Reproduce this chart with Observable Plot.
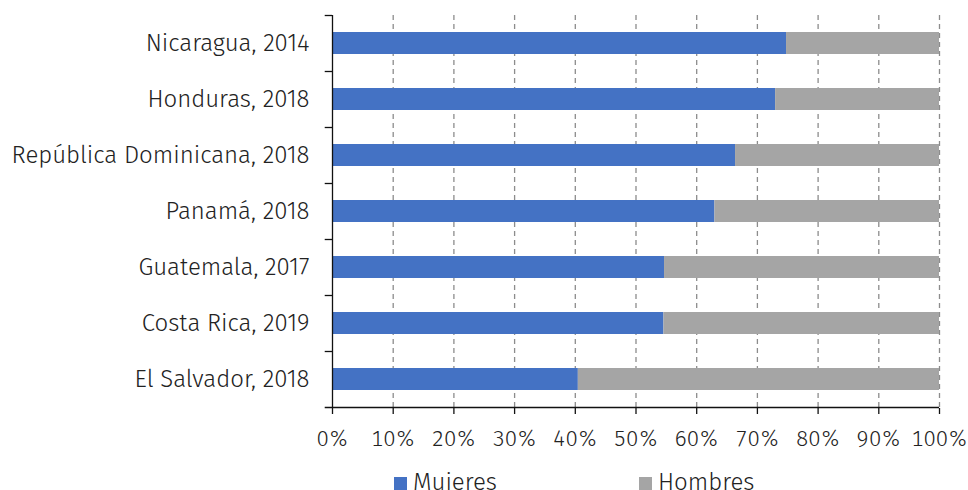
<!DOCTYPE html>
<html>
<head>
<meta charset="utf-8">
<script src="https://cdn.jsdelivr.net/npm/d3@7"></script>
<script src="https://cdn.jsdelivr.net/npm/@observablehq/plot@0.6"></script>
<style>
  html, body { margin: 0; padding: 0; background: #fff; }
  body { width: 968px; height: 490px; overflow: hidden; font-family: "Fira Sans", "Open Sans", sans-serif; font-weight: 300; color: #222; }
  #chart svg { display: block; }
  #chart svg text { font-weight: 300; }
  #legend { position: relative; height: 35px; font-size: 24px; }
  .item { position: absolute; top: 14.5px; display: flex; align-items: flex-start; white-space: nowrap; line-height: 24px; }
  .sw { width: 13px; height: 12.5px; margin-top: 7.5px; margin-right: 6px; }
</style>
</head>
<body>
<div id="chart"></div>
<div id="legend"></div>
<script>
const categories = ["Nicaragua, 2014", "Honduras, 2018", "República Dominicana, 2018", "Panamá, 2018", "Guatemala, 2017", "Costa Rica, 2019", "El Salvador, 2018"];
const mujeres = [74.8, 73.0, 66.4, 63.0, 54.7, 54.6, 40.5];
const hombres = [25.2, 27.0, 33.6, 37.0, 45.3, 45.4, 59.5];
const series = ["Mujeres", "Hombres"];
const colors = ["#4472C4", "#A5A5A5"];
const xTicks = [0, 10, 20, 30, 40, 50, 60, 70, 80, 90, 100];

const rows = [];
categories.forEach((c, i) => {
  rows.push({cat: c, serie: "Mujeres", x1: 0, x2: mujeres[i]});
  rows.push({cat: c, serie: "Hombres", x1: mujeres[i], x2: mujeres[i] + hombres[i]});
});

const W = 968, H = 455;
const chart = Plot.plot({
  width: W,
  height: H,
  marginLeft: 332,
  marginRight: 29,
  marginTop: 15,
  marginBottom: H - 408,
  style: {fontSize: "24px", fontFamily: "'Fira Sans', 'Open Sans', sans-serif", fontWeight: 300, color: "#222", background: "#fff"},
  x: {domain: [0, 100], ticks: xTicks},
  y: {domain: categories, paddingInner: 0.607, paddingOuter: 0.3035},
  color: {domain: series, range: colors},
  marks: [
    Plot.ruleX(xTicks.slice(1), {stroke: "#8c8c8c", strokeWidth: 1.3, strokeDasharray: "5,4"}),
    Plot.barX(rows, {y: "cat", x1: "x1", x2: "x2", fill: "serie"}),
    Plot.ruleX([0], {stroke: "#111", strokeWidth: 1.3}),
    Plot.ruleY(categories, {y: d => d, x1: -1.2, x2: 0, dy: -28, stroke: "#111", strokeWidth: 1.3}),
    Plot.ruleY(categories.slice(-1), {y: d => d, x1: -1.2, x2: 100, dy: 28, stroke: "#111", strokeWidth: 1.3}),
    Plot.axisY({tickSize: 0, tickPadding: 23, label: null, fontSize: 24}),
    Plot.axisX({ticks: xTicks, tickSize: 6, tickPadding: 16, tickFormat: d => d + "%", label: null, fontSize: 22, stroke: "#111", strokeWidth: 1.3})
  ]
});
document.getElementById("chart").append(chart);

const legend = document.getElementById("legend");
const lx = [394, 639];
series.forEach((s, i) => {
  const it = document.createElement("div");
  it.className = "item";
  it.style.left = lx[i] + "px";
  it.innerHTML = `<span class="sw" style="background:${colors[i]}"></span><span>${s}</span>`;
  legend.append(it);
});
</script>
</body>
</html>
